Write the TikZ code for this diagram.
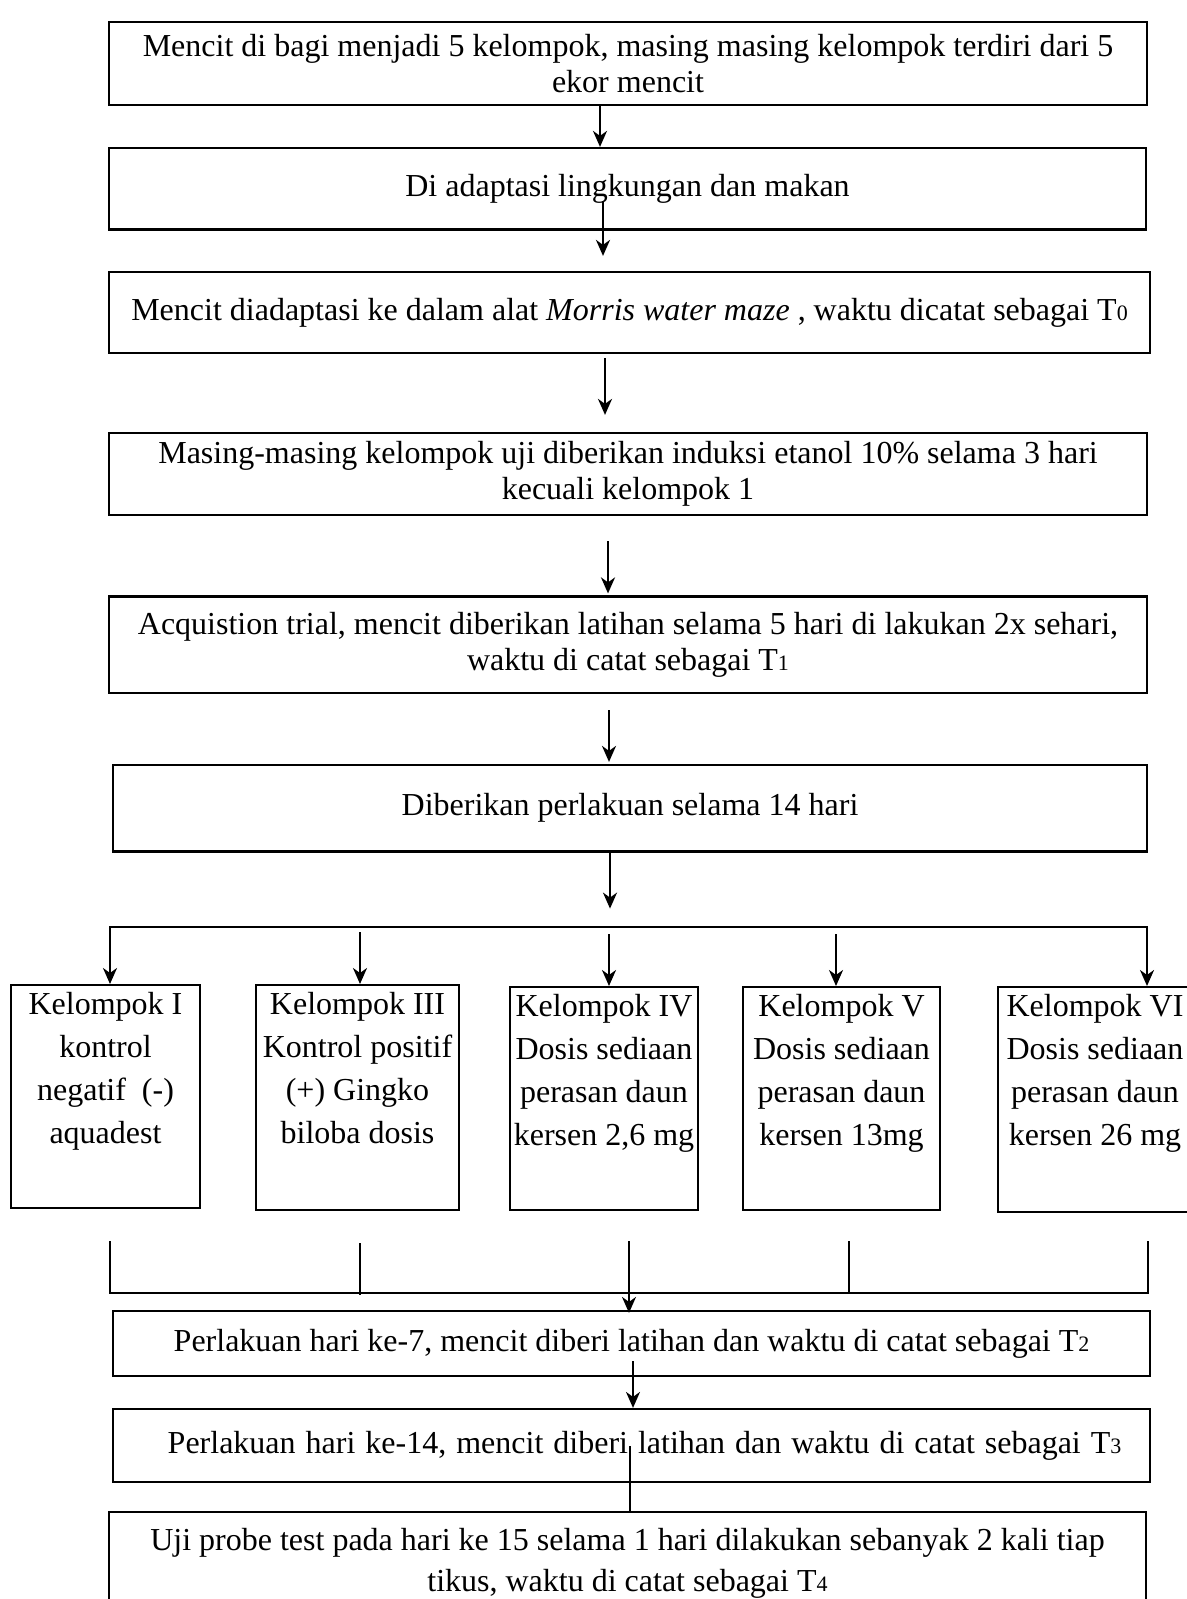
\documentclass[tikz,border=0pt]{standalone}
\usepackage{fontspec}
\setmainfont{Liberation Serif}
\usetikzlibrary{arrows.meta, calc}
\newcommand{\tsub}[1]{{\fontsize{11pt}{11pt}\selectfont #1}}

\begin{document}
\begin{tikzpicture}[x=0.5pt, y=-0.5pt,
    >={Stealth[length=8pt, width=7pt, inset=2.5pt]},
    tahap/.style={draw, line width=1.1pt, align=center, inner sep=0pt,
      font=\fontsize{16pt}{18pt}\selectfont},
    kelompok/.style={draw, line width=1.1pt, anchor=north, align=flush center,
      inner sep=0pt, text height=14.5pt, font=\fontsize{16pt}{21.5pt}\selectfont},
    panah/.style={->, line width=1.1pt},
    garis/.style={line width=0.9pt}]
  \useasboundingbox (0,0) rectangle (1187,1599);
  \node[tahap, minimum width=519pt, minimum height=41.3pt] (b1) at (628,63.7)
      {Mencit di bagi menjadi 5 kelompok, masing masing kelompok terdiri dari 5\\ekor mencit};
  \node[tahap, minimum width=518.5pt, minimum height=40.75pt] (b2) at (627.5,188.75)
      {Di adaptasi lingkungan dan makan};
  \node[tahap, minimum width=520.5pt, minimum height=40.5pt] (b3) at (629.5,312.5)
      {Mencit diadaptasi ke dalam alat \textit{Morris water maze} , waktu dicatat sebagai T\tsub{0}};
  \node[tahap, minimum width=519pt, minimum height=41pt] (b4) at (628,474)
      {Masing-masing kelompok uji diberikan induksi etanol 10\%\ selama 3 hari\\kecuali kelompok 1};
  \node[tahap, minimum width=519pt, minimum height=48.25pt] (b5) at (628,644.75)
      {Acquistion trial, mencit diberikan latihan selama 5 hari di lakukan 2x sehari,\\waktu di catat sebagai T\tsub{1}};
  \node[tahap, minimum width=517pt, minimum height=43.25pt] (b6) at (630,808.25)
      {Diberikan perlakuan selama 14 hari};
  \foreach \i/\cx/\atas/\w/\h/\teks in
      {1/105.5/984/94.5/111.5/{Kelompok I\\kontrol\\negatif~~(-)\\aquadest},
       2/357.5/984/101.5/112.5/{Kelompok III\\Kontrol positif\\(+) Gingko\\biloba dosis},
       3/604/986/94/111.5/{Kelompok IV\\Dosis sediaan\\perasan daun\\kersen 2,6 mg},
       4/841.5/986/98.5/111.5/{Kelompok V\\Dosis sediaan\\perasan daun\\kersen 13mg},
       5/1095/986/97/112.5/{Kelompok VI\\Dosis sediaan\\perasan daun\\kersen 26 mg}} {
    \pgfmathsetmacro\dalam{\h-14.5}
    \node[kelompok, text width=\w pt, text depth=\dalam pt] (g\i) at (\cx,\atas) {\teks};
  }
  \node[tahap, minimum width=518.5pt, minimum height=32.5pt] (b7) at (631.5,1343.5)
      {Perlakuan hari ke-7, mencit diberi latihan dan waktu di catat sebagai T\tsub{2}};
  \node[tahap, minimum width=518.5pt, minimum height=36.5pt] (b8) at (631.5,1445.5)
      {\spaceskip=5pt\relax\hspace*{13pt}Perlakuan hari ke-14, mencit diberi latihan dan waktu di catat sebagai T\tsub{3}};
  \node[tahap, minimum width=518.5pt, minimum height=51.5pt,
      font=\fontsize{16pt}{20.5pt}\selectfont] (b9) at (627.5,1563.5)
      {Uji probe test pada hari ke 15 selama 1 hari dilakukan sebanyak 2 kali tiap\\tikus, waktu di catat sebagai T\tsub{4}};
  \draw[panah] ($(b1.south)+(-28,0)$) -- ($(b2.north)+(-27.5,0)$);
  \draw[panah] ($(b2.center)+(-24.5,12)$) -- ($(b3.north)+(-26.5,-15)$);
  \draw[panah] ($(b3.south)+(-24.5,4)$) -- ($(b4.north)+(-23,-17)$);
  \draw[panah] ($(b4.south)+(-20,25)$) -- ($(b5.north)+(-20,-2)$);
  \draw[panah] ($(b5.south)+(-19,16)$) -- ($(b6.north)+(-21,-2)$);
  \draw[panah] ($(b6.south)+(-20,0)$) -- ($(b6.south)+(-20,56)$);
  \draw[<->, line width=1.1pt] ($(g1.north)+(4.5,0)$) -- ++(0,-57) -| ($(g5.north)+(52,0)$);
  \foreach \i/\dx in {2/2.5, 3/5, 4/-5.5} {
    \draw[panah] ($(g\i.north)+(\dx,-52)$) -- ($(g\i.north)+(\dx,0)$);
  }
  \draw[garis] ($(g1.south)+(4.5,32)$) |- ($(g5.south)+(53,80)$) -- ($(g5.south)+(53,28)$);
  \draw[garis] ($(g2.south)+(2.5,32)$) -- ($(g2.south)+(2.5,84)$);
  \draw[garis] ($(g4.south)+(7.5,30)$) -- ($(g4.south)+(7.5,82)$);
  \draw[->, garis] ($(g3.south)+(25,30)$) -- ($(b7.north)+(-2.5,3)$);
  \draw[->, garis] ($(b7.center)+(1.5,17.5)$) -- ($(b8.north)+(1.5,0)$);
  \draw[garis] ($(b8.center)+(-1.5,0.5)$) -- ($(b9.north)+(2.5,0)$);
\end{tikzpicture}
\end{document}
